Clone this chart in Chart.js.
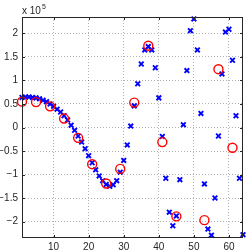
<!DOCTYPE html>
<html>
<head>
<meta charset="utf-8">
<script src="https://cdn.jsdelivr.net/npm/chart.js@4/dist/chart.umd.min.js"></script>
<style>
  html, body { margin: 0; padding: 0; background: #fff; }
</style>
</head>
<body>
<canvas id="grafico" width="249" height="250"></canvas>
<script>
// amostras (azul, x) para n = 1..64, em unidades de 10^5
const amostrasY = [
  0.64, 0.65, 0.65, 0.64, 0.63, 0.61, 0.58, 0.55, 0.50, 0.45,
  0.39, 0.33, 0.25, 0.16, 0.05, -0.06, -0.18, -0.31, -0.45, -0.60,
  -0.75, -0.90, -1.03, -1.13, -1.21, -1.25, -1.22, -1.13, -0.95, -0.70,
  -0.37, 0.03, 0.46, 0.93, 1.35, 1.65, 1.72, 1.65, 1.27, 0.63,
  -0.19, -1.08, -1.80, -2.09, -1.88, -1.11, 0.06, 1.21, 2.06, 2.31,
  1.65, 0.30, -1.20, -2.16, -2.29, -1.50, -0.18, 1.14, 2.03, 2.09,
  1.43, 0.25, -1.08, -2.28
];
// circulos vermelhos (a cada 4 amostras)
const circulosX = [1, 5, 9, 13, 17, 21, 25, 29, 33, 37, 41, 45, 49, 53, 57, 61];
const circulosY = [0.55, 0.54, 0.45, 0.19, -0.22, -0.78, -1.19, -0.88, 0.53, 1.74, -0.31, -1.89, null, -1.97, 1.24, -0.43];

const ticksX = [10, 20, 30, 40, 50, 60];
const ticksY = [-2, -1.5, -1, -0.5, 0, 0.5, 1, 1.5, 2];
const limitesX = [1, 64];
const limitesY = [-2.35, 2.35];

const corTexto = '#262626';
const fonte = 'Liberation Sans, Arial, sans-serif';

const pontosAzuis = amostrasY.map((v, i) => ({ x: i + 1, y: v }));
const pontosVermelhos = circulosX.map((n, i) => ({ x: n, y: circulosY[i] }));

function fmtTick(v) {
  return String(v).replace('-', '\u2212');
}

// moldura da caixa, marcas internas e rótulo "x 10^5"
const moldura = {
  id: 'moldura',
  afterDraw(chart) {
    const { ctx, chartArea: a, scales: { x, y } } = chart;
    ctx.save();
    ctx.strokeStyle = corTexto;
    ctx.lineWidth = 1;
    ctx.strokeRect(a.left + 0.5, a.top + 0.5, a.right - a.left - 1, a.bottom - a.top - 1);
    ctx.beginPath();
    ticksX.forEach(v => {
      const px = Math.round(x.getPixelForValue(v)) + 0.5;
      ctx.moveTo(px, a.bottom); ctx.lineTo(px, a.bottom - 3);
      ctx.moveTo(px, a.top); ctx.lineTo(px, a.top + 3);
    });
    ticksY.forEach(v => {
      const py = Math.round(y.getPixelForValue(v)) + 0.5;
      ctx.moveTo(a.left, py); ctx.lineTo(a.left + 3, py);
      ctx.moveTo(a.right, py); ctx.lineTo(a.right - 3, py);
    });
    ctx.stroke();

    ctx.fillStyle = corTexto;
    ctx.textBaseline = 'alphabetic';
    ctx.textAlign = 'left';
    ctx.font = '10px ' + fonte;
    ctx.fillText('x 10', a.left, a.top - 3);
    const w = ctx.measureText('x 10').width;
    ctx.font = '7px ' + fonte;
    ctx.fillText('5', a.left + w + 1, a.top - 8);
    ctx.restore();
  }
};

new Chart(document.getElementById('grafico'), {
  type: 'scatter',
  data: {
    datasets: [
      {
        label: 'reconstruido',
        data: pontosVermelhos,
        pointStyle: 'circle',
        pointRadius: 4.5,
        pointBorderWidth: 1.4,
        borderColor: '#ff0000',
        backgroundColor: 'rgba(0,0,0,0)',
        showLine: false,
        clip: false
      },
      {
        label: 'amostras',
        data: pontosAzuis,
        pointStyle: 'crossRot',
        pointRadius: 3.3,
        pointBorderWidth: 1.9,
        borderColor: '#0000ff',
        backgroundColor: '#0000ff',
        showLine: false,
        clip: false
      }
    ]
  },
  options: {
    responsive: false,
    animation: false,
    devicePixelRatio: 1,
    layout: { padding: { top: 17, right: 6, left: 0, bottom: 0 } },
    plugins: { legend: { display: false }, tooltip: { enabled: false } },
    scales: {
      x: {
        type: 'linear',
        min: limitesX[0],
        max: limitesX[1],
        afterBuildTicks: s => { s.ticks = ticksX.map(v => ({ value: v })); },
        afterFit: s => { s.height = 12; },
        grid: { color: 'rgba(0,0,0,0.3)', drawTicks: false, lineWidth: 1 },
        border: { display: false, dash: [1, 2] },
        ticks: { font: { family: fonte, size: 10 }, color: corTexto, padding: 3, maxRotation: 0 }
      },
      y: {
        type: 'linear',
        min: limitesY[0],
        max: limitesY[1],
        afterBuildTicks: s => { s.ticks = ticksY.map(v => ({ value: v })); },
        afterFit: s => { s.width = 22; },
        grid: { color: 'rgba(0,0,0,0.3)', drawTicks: false, lineWidth: 1 },
        border: { display: false, dash: [1, 2] },
        ticks: { font: { family: fonte, size: 10 }, color: corTexto, padding: 4, callback: v => fmtTick(v) }
      }
    }
  },
  plugins: [moldura]
});
</script>
</body>
</html>
